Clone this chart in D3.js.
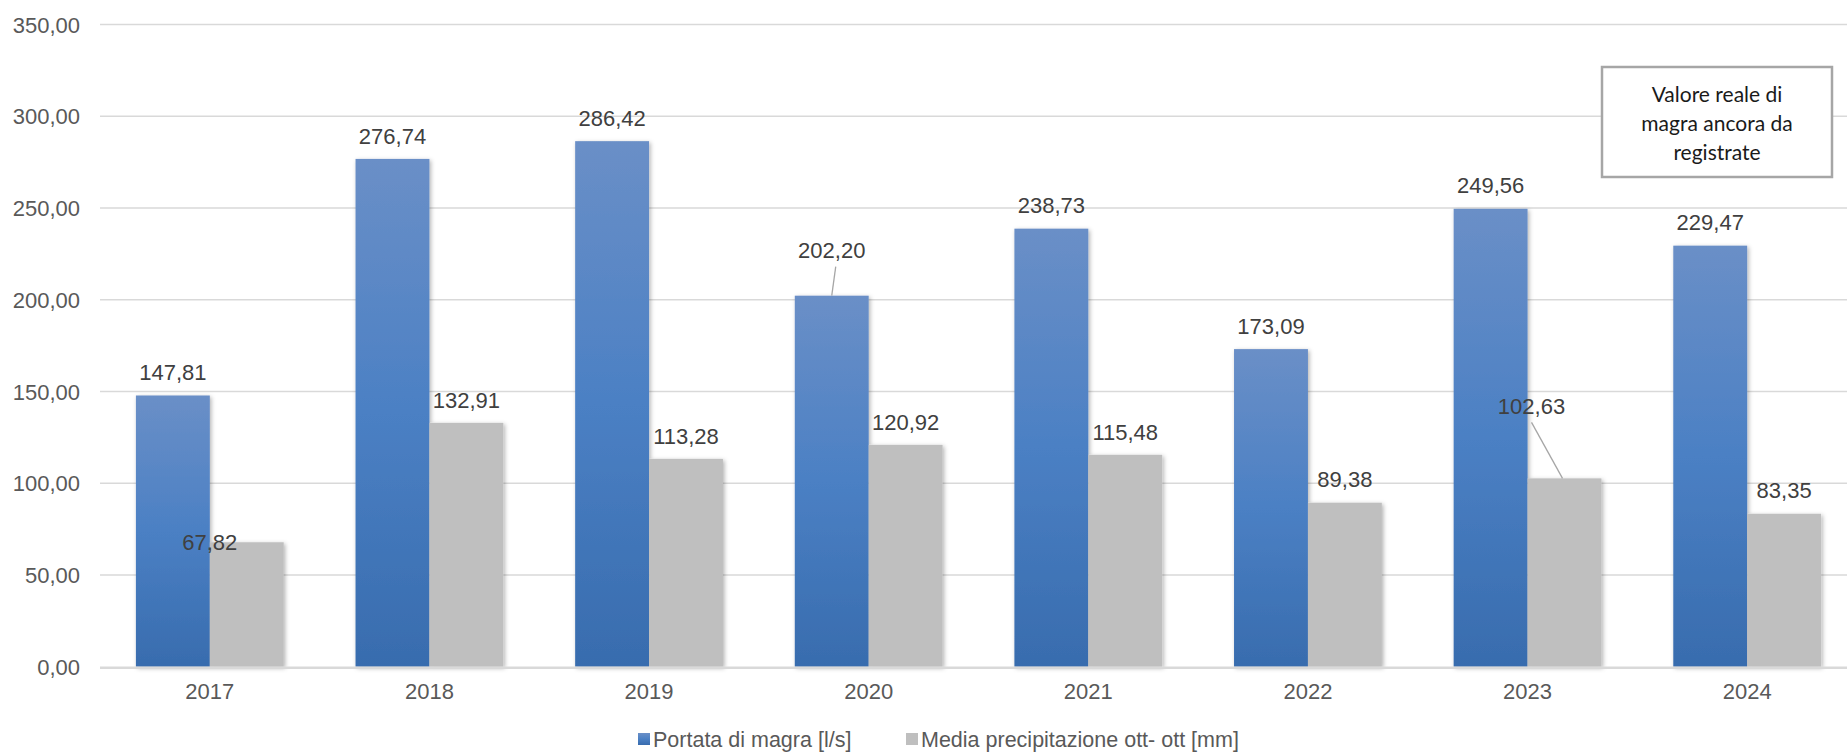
<!DOCTYPE html>
<html><head><meta charset="utf-8">
<script src="https://cdn.jsdelivr.net/npm/d3@7"></script>
<style>html,body{margin:0;padding:0;background:#fff;overflow:hidden}</style>
</head><body>
<svg id="c" width="1847" height="753"></svg>
<script>
const years = ["2017","2018","2019","2020","2021","2022","2023","2024"];
const portata = [147.81, 276.74, 286.42, 202.20, 238.73, 173.09, 249.56, 229.47];
const precipitazione = [67.82, 132.91, 113.28, 120.92, 115.48, 89.38, 102.63, 83.35];
const yTicks = [0, 50, 100, 150, 200, 250, 300, 350];
const seriesNames = ["Portata di magra [l/s]", "Media precipitazione ott- ott [mm]"];
const noteLines = ["Valore reale di", "magra ancora da", "registrate"];

const fmt = v => v.toFixed(2).replace(".", ",");
const svg = d3.select("#c");
const defs = svg.append("defs");
const g1 = defs.append("linearGradient").attr("id","blueG").attr("x1",0).attr("y1",0).attr("x2",0).attr("y2",1);
g1.append("stop").attr("offset","0%").attr("stop-color","#6a8fc7");
g1.append("stop").attr("offset","50%").attr("stop-color","#4b80c4");
g1.append("stop").attr("offset","100%").attr("stop-color","#386cae");
const f = defs.append("filter").attr("id","sh").attr("x","-20%").attr("y","-5%").attr("width","140%").attr("height","110%");
f.append("feDropShadow").attr("dx",1.5).attr("dy",1.5).attr("stdDeviation",2).attr("flood-color","#000").attr("flood-opacity",0.3);

const x = d3.scaleBand().domain(years).range([100, 1857]).paddingInner(0.327).paddingOuter(0.1635);
const xs = d3.scaleBand().domain([0,1]).range([0, x.bandwidth()]);
const y = d3.scaleLinear().domain([0, 350]).range([666.7, 24.5]);

// gridlines
svg.append("g").selectAll("line").data(yTicks.filter(t=>t>0)).join("line")
  .attr("x1",100).attr("x2",1847).attr("y1",d=>y(d)).attr("y2",d=>y(d))
  .attr("stroke","#d9d9d9").attr("stroke-width",1.5);

// y axis labels
const yAxis = d3.axisLeft(y).tickValues(yTicks).tickFormat(fmt).tickSize(0).tickPadding(0);
const ya = svg.append("g").attr("transform","translate(80,0)").call(yAxis);
ya.select(".domain").remove();
ya.selectAll("text").attr("font-family","Liberation Sans, Arial, sans-serif").attr("font-size",22).attr("fill","#595959").attr("dy","0.35em");

// bars
const series = [portata, precipitazione];
const fills = ["url(#blueG)", "#bfbfbf"];
const gb = svg.append("g").attr("filter","url(#sh)");
series.forEach((arr, si) => {
  gb.selectAll(".b"+si).data(arr).join("rect").attr("class","b"+si)
    .attr("x",(d,i)=>x(years[i]) + xs(si))
    .attr("width", xs.bandwidth())
    .attr("y", d=>y(d)).attr("height", d=>y(0)-y(d))
    .attr("fill", fills[si]);
});

// baseline
svg.append("line").attr("x1",100).attr("x2",1847).attr("y1",y(0)+1).attr("y2",y(0)+1)
  .attr("stroke","#d9d9d9").attr("stroke-width",2.5);

// x axis labels
const xAxis = d3.axisBottom(x).tickSize(0).tickPadding(0);
const xa = svg.append("g").attr("transform","translate(0,691)").call(xAxis);
xa.select(".domain").remove();
xa.selectAll("text").attr("font-family","Liberation Sans, Arial, sans-serif").attr("font-size",22).attr("fill","#595959").attr("dy","0.35em");

// data labels (manual adjustments mimic the reference)
const manual = {
  "0-3": {dx: 0, dy: -45, leader: true},
  "1-0": {dx: -37, dy: 0},
  "1-6": {dx: -33, dy: -72, leader: true}
};
const gl = svg.append("g").attr("font-family","Liberation Sans, Arial, sans-serif").attr("font-size",22).attr("fill","#404040");
series.forEach((arr, si) => {
  arr.forEach((v, i) => {
    const cx = x(years[i]) + xs(si) + xs.bandwidth()/2;
    const top = y(v);
    const m = manual[si+"-"+i];
    let lx = cx, ly = top - 23;
    if (m) { lx = cx + m.dx; ly = (m.dy === 0) ? top : top + m.dy; }
    gl.append("text").attr("x",lx).attr("y",ly).attr("dy","0.35em").attr("text-anchor","middle").text(fmt(v));
    if (m && m.leader) {
      svg.append("line").attr("x1", lx + (si===0?4:0)).attr("y1", ly + 16)
        .attr("x2", cx - (si===1?2:0)).attr("y2", top)
        .attr("stroke","#a6a6a6").attr("stroke-width",1.3);
    }
  });
});

// legend
const legX = [638, 906];
const lg = svg.append("g");
seriesNames.forEach((n, i) => {
  lg.append("rect").attr("x",legX[i]).attr("y",733).attr("width",12).attr("height",12)
    .attr("fill", i===0 ? "url(#blueG)" : "#bfbfbf");
  lg.append("text").attr("x",legX[i]+15).attr("y",739).attr("dy","0.35em")
    .attr("font-family","Liberation Sans, Arial, sans-serif").attr("font-size",21.5).attr("fill","#595959").text(n);
});

// annotation box
svg.append("rect").attr("x",1602).attr("y",67).attr("width",230).attr("height",110)
  .attr("fill","#fff").attr("stroke","#a6a6a6").attr("stroke-width",2.5);
noteLines.forEach((t, i) => {
  svg.append("text").attr("x",1717).attr("y",95 + i*29).attr("dy","0.35em").attr("text-anchor","middle")
    .attr("font-family","Lato, sans-serif").attr("font-size",21).attr("fill","#1a1a1a").text(t);
});
</script>
</body></html>
